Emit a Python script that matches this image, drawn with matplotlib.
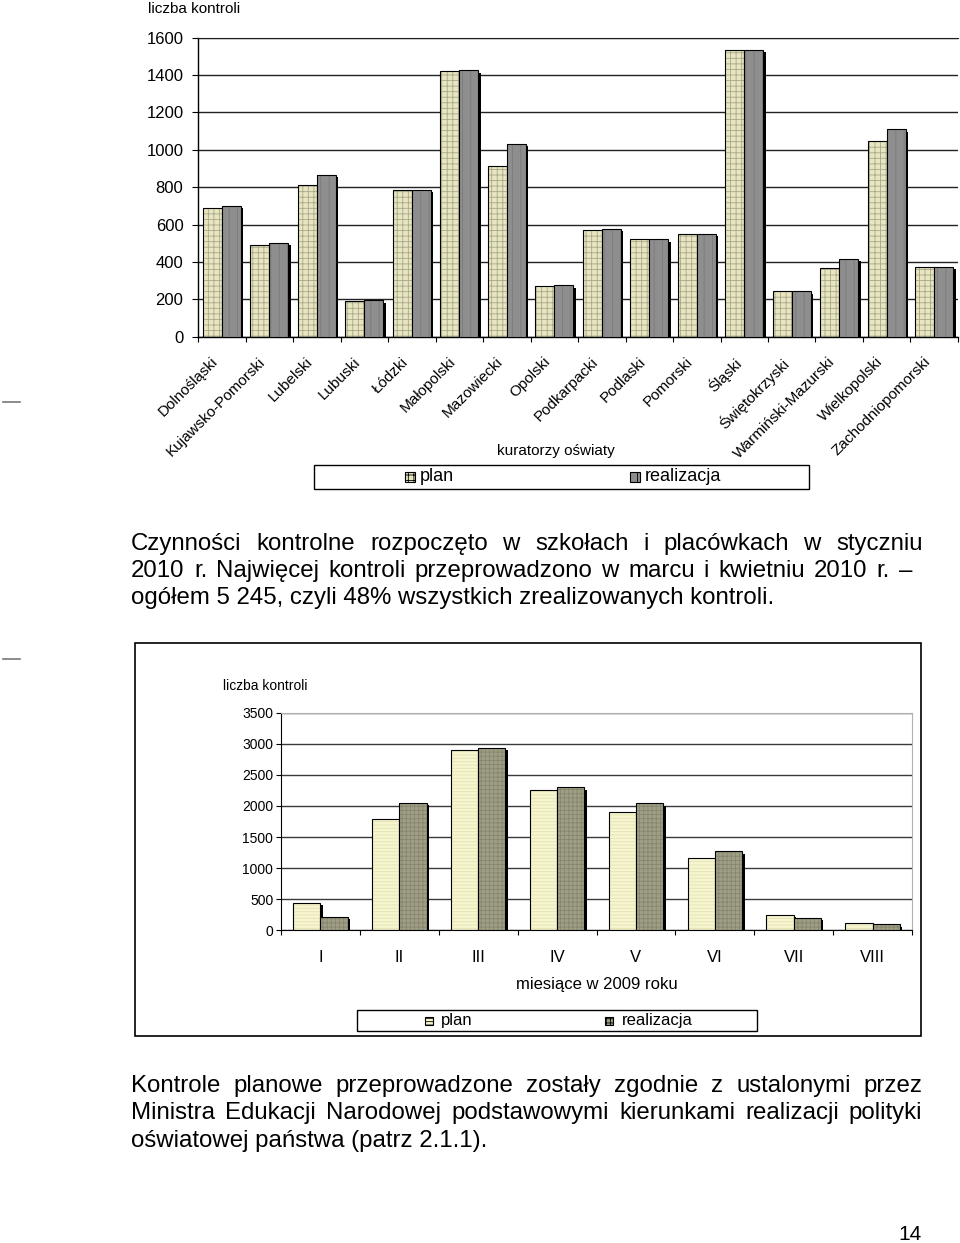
import matplotlib
matplotlib.use("Agg")
import matplotlib.pyplot as plt
from matplotlib.patches import Rectangle
from matplotlib.lines import Line2D
from matplotlib.transforms import offset_copy
import numpy as np

plt.rcParams["font.family"] = ["Liberation Sans", "DejaVu Sans"]
plt.rcParams["hatch.linewidth"] = 0.6

W, H = 960, 1243

# dane - kuratoria
kuratoria = ["Dolnośląski", "Kujawsko-Pomorski", "Lubelski", "Lubuski", "Łódzki",
             "Małopolski", "Mazowiecki", "Opolski", "Podkarpacki", "Podlaski",
             "Pomorski", "Śląski", "Świętokrzyski", "Warmiński-Mazurski",
             "Wielkopolski", "Zachodniopomorski"]
plan_kur = [690, 490, 812, 192, 787, 1424, 913, 269, 571, 522, 552, 1536, 242, 368, 1048, 374]
real_kur = [701, 502, 867, 196, 787, 1425, 1032, 274, 577, 522, 552, 1536, 242, 418, 1111, 374]
yticks_kur = [0, 200, 400, 600, 800, 1000, 1200, 1400, 1600]

# dane - miesiace
miesiace = ["I", "II", "III", "IV", "V", "VI", "VII", "VIII"]
plan_mies = [444, 1790, 2899, 2251, 1897, 1163, 251, 113]
real_mies = [219, 2052, 2937, 2304, 2042, 1270, 198, 96]
yticks_mies = [0, 500, 1000, 1500, 2000, 2500, 3000, 3500]

akapit1 = ["Czynności kontrolne rozpoczęto w szkołach i placówkach w styczniu",
           "2010 r. Najwięcej kontroli przeprowadzono w marcu i kwietniu 2010 r. –",
           "ogółem 5 245, czyli 48% wszystkich zrealizowanych kontroli."]
akapit2 = ["Kontrole planowe przeprowadzone zostały zgodnie z ustalonymi przez",
           "Ministra Edukacji Narodowej podstawowymi kierunkami realizacji polityki",
           "oświatowej państwa (patrz 2.1.1)."]

fig = plt.figure(figsize=(W / 100, H / 100), dpi=100)


def fx(x):
    return x / W


def fy(y):
    return 1 - y / H


def px_axes(x0, y0, x1, y1):
    return fig.add_axes([fx(x0), fy(y1), (x1 - x0) / W, (y1 - y0) / H])


def bars(ax, xs, vals, width, face, hatch, hcol, z):
    shadow = offset_copy(ax.transData, fig=fig, x=2.5, y=-2.5, units="dots")
    ax.bar(xs, vals, width, color="black", linewidth=0, transform=shadow, zorder=z)
    ax.bar(xs, vals, width, color=face, edgecolor=hcol, hatch=hatch, linewidth=0, zorder=z + 0.1)
    ax.bar(xs, vals, width, fill=False, edgecolor="black", linewidth=0.8, zorder=z + 0.2)


def legend_box(x0, y0, x1, y1, items, size, sq):
    fig.patches.append(Rectangle((fx(x0), fy(y1)), (x1 - x0) / W, (y1 - y0) / H,
                                 transform=fig.transFigure, fill=False,
                                 edgecolor="black", linewidth=1.0))
    yc = (y0 + y1) / 2
    for mx, tx, face, hatch, hcol, label in items:
        fig.patches.append(Rectangle((fx(mx), fy(yc + sq / 2)), sq / W, sq / H,
                                     transform=fig.transFigure, facecolor=face,
                                     edgecolor="black", hatch=hatch, linewidth=0.8))
        fig.text(fx(tx), fy(yc), label, fontsize=size, va="center", ha="left")


# ---------------- wykres 1 ----------------
ax1 = px_axes(198, 37.7, 958, 336.7)
x = np.arange(len(kuratoria))
bw = 0.405
bars(ax1, x - bw / 2, plan_kur, bw, "#E8E6C0", "+++", "#A9A78C", 2)
bars(ax1, x + bw / 2, real_kur, bw, "#8E8E8E", "||", "#7A7A7A", 5)
ax1.set_xlim(-0.5, len(kuratoria) - 0.5)
ax1.set_ylim(0, 1600)
ax1.set_yticks(yticks_kur)
ax1.tick_params(axis="y", labelsize=12, length=4.5, width=0.8, pad=6)
ax1.grid(axis="y", color="#222222", linewidth=1.0, zorder=0)
ax1.set_axisbelow(True)
ax1.set_xticks(np.arange(-0.5, len(kuratoria), 1.0))
ax1.set_xticklabels([])
ax1.tick_params(axis="x", which="major", length=3.5, width=0.8)
lab_tr = offset_copy(ax1.transData, fig=fig, x=-11, y=-18, units="dots")
for xi, name in zip(x, kuratoria):
    ax1.text(xi, 0, name, transform=lab_tr, fontsize=11, rotation=45,
             ha="right", va="top", rotation_mode="anchor", clip_on=False)
ax1.spines["right"].set_visible(False)
ax1.spines["top"].set_color("#222222")
ax1.spines["left"].set_linewidth(1.0)
ax1.spines["bottom"].set_linewidth(1.0)

fig.text(fx(148), fy(13), "liczba kontroli", fontsize=11, va="baseline")
fig.text(fx(556), fy(455), "kuratorzy oświaty", fontsize=11, va="baseline", ha="center")
legend_box(314, 465, 809, 489,
           [(405, 420, "#E8E6C0", "+++", "#A9A78C", "plan"),
            (630, 645, "#8E8E8E", "||", "#7A7A7A", "realizacja")], 13, 10)

# ---------------- tekst 1 ----------------
renderer = fig.canvas.get_renderer()


def paragraph(lines, x0, x_right, baselines, size):
    for line, right, y in zip(lines, x_right, baselines):
        if right is None:
            fig.text(fx(x0), fy(y), line, fontsize=size, va="baseline", ha="left")
            continue
        words = line.split(" ")
        arts = [fig.text(0, 0, w, fontsize=size, va="baseline", ha="left") for w in words]
        widths = [a.get_window_extent(renderer).width for a in arts]
        gap = (right - x0 - sum(widths)) / (len(words) - 1)
        xx = x0
        for a, w in zip(arts, widths):
            a.set_position((fx(round(xx)), fy(y)))
            xx += w + gap


paragraph(akapit1, 131, [922, 912, None], [550, 577, 604], 17.3)

# ---------------- wykres 2 ----------------
fig.patches.append(Rectangle((fx(135), fy(1036)), (921 - 135) / W, (1036 - 643) / H,
                             transform=fig.transFigure, fill=False,
                             edgecolor="black", linewidth=1.2))
ax2 = px_axes(281, 712.7, 912, 930.3)
m = np.arange(len(miesiace))
bw2 = 0.345
bars(ax2, m - bw2 / 2, plan_mies, bw2, "#F7F5CE", "-----", "#E4E2B8", 2)
bars(ax2, m + bw2 / 2, real_mies, bw2, "#A09F86", "++++", "#86856D", 5)
ax2.set_xlim(-0.5, len(miesiace) - 0.5)
ax2.set_ylim(0, 3500)
ax2.set_yticks(yticks_mies)
ax2.tick_params(axis="y", labelsize=10, length=3.6, width=0.8, pad=2)
ax2.grid(axis="y", color="#3a3a3a", linewidth=1.0, zorder=0)
ax2.set_axisbelow(True)
ax2.set_xticks(np.arange(-0.5, len(miesiace), 1.0))
ax2.set_xticklabels([])
ax2.tick_params(axis="x", which="major", length=3.6, width=0.8)
ax2.set_xticks(m, miesiace, minor=True)
ax2.tick_params(axis="x", which="minor", length=0, labelsize=12, pad=14)
ax2.spines["top"].set_color("#B0B0B0")
ax2.spines["right"].set_color("#B0B0B0")

fig.text(fx(223), fy(690), "liczba kontroli", fontsize=10, va="baseline")
fig.text(fx(597), fy(985), "miesiące w 2009 roku", fontsize=12, va="center", ha="center")
legend_box(357, 1010, 757, 1031,
           [(425, 441, "#F7F5CE", "-----", "#E4E2B8", "plan"),
            (605, 622, "#A09F86", "++++", "#86856D", "realizacja")], 12, 8)

# ---------------- tekst 2 ----------------
paragraph(akapit2, 131, [922, 922, None], [1092, 1119, 1147], 17.3)

fig.text(fx(922), fy(1240), "14", fontsize=15, va="baseline", ha="right")

for yy in [402, 659]:
    fig.add_artist(Line2D([fx(3), fx(20)], [fy(yy), fy(yy)], color="#777777",
                          linewidth=1.2, transform=fig.transFigure))

fig.savefig("out.png", dpi=100)
